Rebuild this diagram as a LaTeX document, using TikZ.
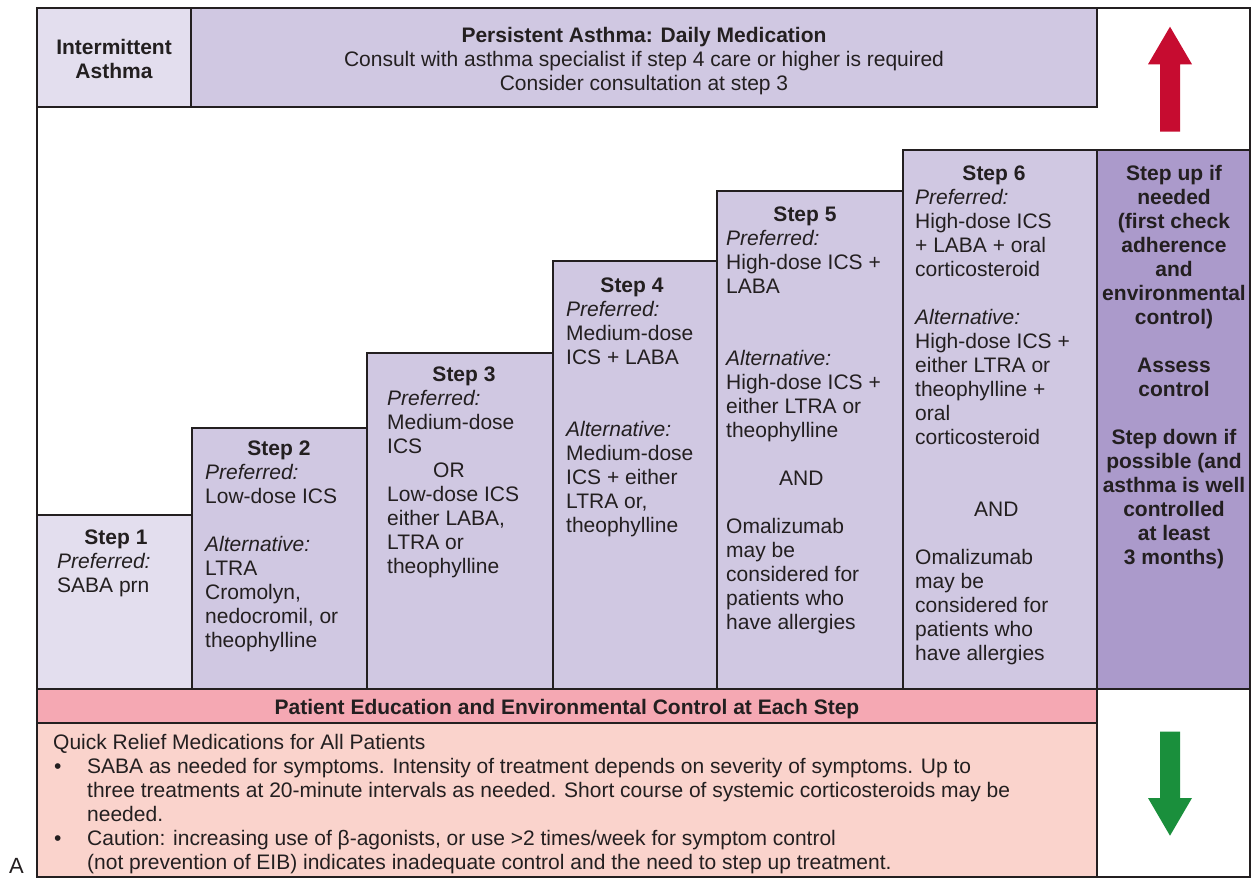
\documentclass[tikz,border=0pt]{standalone}
\usepackage{fontspec}
\setmainfont{Liberation Sans}
\usepackage{tikz}
\definecolor{ink}{HTML}{231F20}
\definecolor{paleviolet}{HTML}{E3DEEE}
\definecolor{stepviolet}{HTML}{D0C8E2}
\definecolor{deepviolet}{HTML}{AB9ACB}
\definecolor{edupink}{HTML}{F5A8B3}
\definecolor{reliefpink}{HTML}{FAD3CC}
\definecolor{upred}{HTML}{C60C30}
\definecolor{downgreen}{HTML}{1A8F3C}

\begin{document}
\begin{tikzpicture}[x=1pt, y=-1pt,
  cell/.style={draw=ink, line width=1.2pt},
  txt/.style={inner sep=0pt, text=ink, font=\fontsize{21}{24}\selectfont},
  lines/.style={txt, align=left, anchor=north west},
  heads/.style={txt, align=center, anchor=north, font=\fontsize{21}{24}\selectfont\bfseries},
  title/.style={txt, anchor=base, font=\fontsize{21}{24}\selectfont\bfseries}]
  \useasboundingbox (0,0) rectangle (1251,878);
  \filldraw[cell, fill=paleviolet] (37,8) rectangle (191,107);
  \filldraw[cell, fill=stepviolet] (191,8) rectangle (1097,107);
  \filldraw[cell, fill=paleviolet] (37,515) rectangle (192,689);
  \filldraw[cell, fill=stepviolet] (192,428) rectangle (367,689);
  \filldraw[cell, fill=stepviolet] (367,353) rectangle (553,689);
  \filldraw[cell, fill=stepviolet] (553,261) rectangle (717,689);
  \filldraw[cell, fill=stepviolet] (717,191) rectangle (903,689);
  \filldraw[cell, fill=stepviolet] (903,150) rectangle (1097,689);
  \filldraw[cell, fill=deepviolet] (1097,150) rectangle (1250,689);
  \filldraw[cell, fill=edupink] (37,689) rectangle (1097,723);
  \filldraw[cell, fill=reliefpink] (37,723) rectangle (1097,877);
  \draw[ink, line width=1.2pt] (1097,689) -- (1250,689);
  \draw[ink, line width=2.2pt] (37,8) rectangle (1250,877);
  \fill[upred] (1160,131.7) -- (1160,64.3) -- (1148,64.3) -- (1170,26.7) -- (1192,64.3) -- (1180,64.3) -- (1180,131.7) -- cycle;
  \fill[downgreen] (1160,731.7) -- (1160,798) -- (1148,798) -- (1170,835.7) -- (1192,798) -- (1180,798) -- (1180,731.7) -- cycle;

  \node[heads] (intermittent) at (114,38.7) {Intermittent\\Asthma};
  \node[txt, align=center, anchor=north] (persistent) at (644,27.2)
    {\textbf{Persistent Asthma: Daily Medication}\\Consult with asthma specialist if step 4 care or higher is required\\Consider consultation at step 3};

  \node[title] (s1) at (116,544) {Step 1};
  \node[lines] (s1body) at (57,553.2) {\textit{Preferred:}\\SABA prn};
  \node[title] (s2) at (279,455) {Step 2};
  \node[lines] (s2body) at (205,464.2)
    {\textit{Preferred:}\\Low-dose ICS\\[24pt]\textit{Alternative:}\\LTRA\\Cromolyn,\\nedocromil, or\\theophylline};
  \node[title] (s3) at (464,381) {Step 3};
  \node[lines] (s3body) at (387,390.2)
    {\textit{Preferred:}\\Medium-dose\\ICS\\\hspace*{46pt}OR\\Low-dose ICS\\either LABA,\\LTRA or\\theophylline};
  \node[title] (s4) at (632,292) {Step 4};
  \node[lines] (s4body) at (566,301.2)
    {\textit{Preferred:}\\Medium-dose\\ICS + LABA\\[48pt]\textit{Alternative:}\\Medium-dose\\ICS + either\\LTRA or,\\theophylline};
  \node[title] (s5) at (805,221) {Step 5};
  \node[lines] (s5body) at (726,230.2)
    {\textit{Preferred:}\\High-dose ICS +\\LABA\\[48pt]\textit{Alternative:}\\High-dose ICS +\\either LTRA or\\theophylline\\[24pt]\hspace*{53pt}AND\\[24pt]Omalizumab\\may be\\considered for\\patients who\\have allergies};
  \node[title] (s6) at (994,180) {Step 6};
  \node[lines] (s6body) at (915,189.2)
    {\textit{Preferred:}\\High-dose ICS\\+ LABA + oral\\corticosteroid\\[24pt]\textit{Alternative:}\\High-dose ICS +\\either LTRA or\\theophylline +\\oral\\corticosteroid\\[48pt]\hspace*{59pt}AND\\[24pt]Omalizumab\\may be\\considered for\\patients who\\have allergies};
  \node[heads] (stepping) at (1174,165.2)
    {Step up if\\needed\\(first check\\adherence\\and\\environmental\\control)\\[24pt]Assess\\control\\[24pt]Step down if\\possible (and\\asthma is well\\controlled\\at least\\3 months)};

  \node[title] (education) at (567,714) {Patient Education and Environmental Control at Each Step};
  \node[lines] (relief) at (53,734.2)
    {Quick Relief Medications for All Patients\\
     \makebox[34pt][l]{\hspace{1pt}\textbullet}SABA as needed for symptoms. Intensity of treatment depends on severity of symptoms. Up to\\
     \hspace*{34pt}three treatments at 20-minute intervals as needed. Short course of systemic corticosteroids may be\\
     \hspace*{34pt}needed.\\
     \makebox[34pt][l]{\hspace{1pt}\textbullet}Caution: increasing use of β-agonists, or use >2 times/week for symptom control\\
     \hspace*{34pt}(not prevention of EIB) indicates inadequate control and the need to step up treatment.};
  \node[txt, anchor=base, font=\fontsize{22}{24}\selectfont] (panel) at (16.5,873) {A};
\end{tikzpicture}
\end{document}
